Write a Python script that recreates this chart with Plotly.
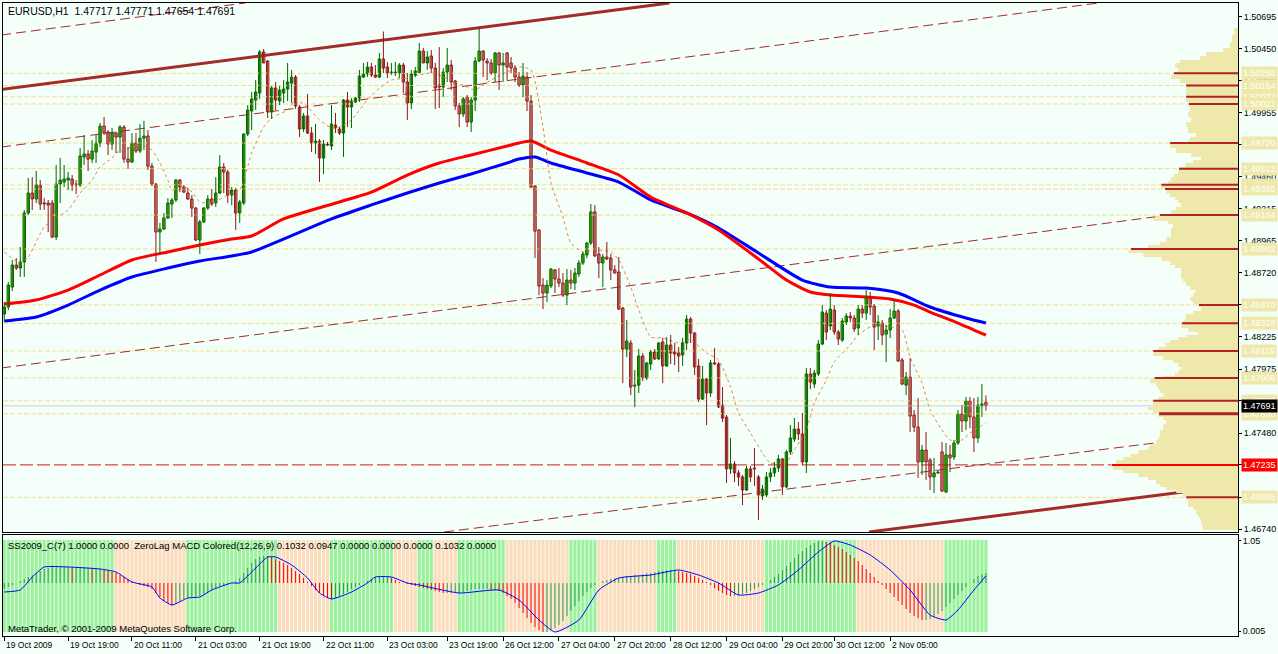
import numpy as np
import plotly.graph_objects as go

# ------------------------------------------------------------------ data
title_text = "EURUSD,H1  1.47717 1.47771 1.47654 1.47691"
indicator_text = ("SS2009_C(7) 1.0000 0.0000  ZeroLag MACD Colored(12,26,9) 0.1032 0.0947 "
                  "0.0000 0.0000 0.0000 0.1032 0.0000")
copyright_text = "MetaTrader, \u00a9 2001-2009 MetaQuotes Software Corp."

opens = [1.48400,1.48454,1.48608,1.48778,1.48755,1.48802,1.49180,1.49334,1.49288,1.49396,
1.49257,1.49257,1.49257,1.48994,1.49403,1.49419,1.49434,1.49442,1.49403,1.49396,
1.49612,1.49635,1.49596,1.49650,1.49720,1.49851,1.49805,1.49712,1.49797,1.49766,
1.49843,1.49596,1.49573,1.49720,1.49658,1.49758,1.49774,1.49542,1.49403,1.49033,
1.49056,1.49141,1.49249,1.49280,1.49434,1.49380,1.49334,1.49288,1.49218,1.48971,
1.49111,1.49218,1.49288,1.49257,1.49334,1.49535,1.49496,1.49318,1.49357,1.49180,
1.49257,1.49789,1.49967,1.50052,1.50106,1.50423,1.50353,1.49960,1.50145,1.50044,
1.50106,1.50137,1.50183,1.50229,1.49998,1.49828,1.49929,1.49797,1.49720,1.49735,
1.49604,1.49712,1.49697,1.49859,1.49828,1.49797,1.50052,1.49998,1.50037,1.50067,
1.50229,1.50253,1.50307,1.50245,1.50229,1.50369,1.50307,1.50261,1.50261,1.50261,
1.50322,1.50191,1.50029,1.50245,1.50261,1.50430,1.50338,1.50392,1.50299,1.50168,
1.50152,1.50268,1.50322,1.50199,1.50006,1.49944,1.50075,1.49882,1.50052,1.50353,
1.50430,1.50353,1.50338,1.50261,1.50415,1.50322,1.50415,1.50338,1.50299,1.50229,
1.50168,1.50229,1.50044,1.49388,1.49048,1.48623,1.48562,1.48616,1.48740,1.48670,
1.48639,1.48546,1.48662,1.48639,1.48709,1.48794,1.48856,1.48948,1.49188,1.48863,
1.48794,1.48840,1.48832,1.48740,1.48724,1.48446,1.48129,1.48176,1.47844,1.47851,
1.48076,1.47906,1.48014,1.48107,1.48053,1.48184,1.47999,1.48160,1.48107,1.48099,
1.48084,1.48176,1.48361,1.48253,1.47999,1.47743,1.47898,1.47790,1.48022,1.48014,
1.47697,1.47604,1.47204,1.47242,1.47173,1.47142,1.47041,1.47204,1.47211,1.47142,
1.46995,1.47003,1.47142,1.47173,1.47211,1.47281,1.47065,1.47335,1.47435,1.47512,
1.47474,1.47258,1.47937,1.47859,1.47937,1.48168,1.48407,1.48307,1.48431,1.48261,
1.48199,1.48338,1.48384,1.48369,1.48292,1.48438,1.48407,1.48531,1.48461,1.48307,
1.48330,1.48245,1.48276,1.48369,1.48423,1.48045,1.47851,1.47913,1.47620,1.47527,
1.47258,1.47350,1.47273,1.47142,1.47173,1.47335,1.47026,1.47312,1.47296,1.47404,
1.47628,1.47574,1.47729,1.47605,1.47443,1.47690,1.47717]

highs = [1.48493,1.48647,1.48817,1.48832,1.48917,1.49203,1.49450,1.49457,1.49504,1.49434,
1.49295,1.49280,1.49280,1.49550,1.49604,1.49550,1.49496,1.49473,1.49434,1.49681,
1.49782,1.49666,1.49743,1.49782,1.49875,1.49921,1.49820,1.49836,1.49805,1.49859,
1.49859,1.49689,1.49797,1.49797,1.49867,1.49890,1.49820,1.49566,1.49411,1.49103,
1.49180,1.49295,1.49295,1.49442,1.49442,1.49396,1.49373,1.49318,1.49226,1.49126,
1.49226,1.49318,1.49365,1.49457,1.49627,1.49566,1.49512,1.49380,1.49373,1.49280,
1.49797,1.50013,1.50114,1.50206,1.50438,1.50446,1.50361,1.50160,1.50191,1.50160,
1.50206,1.50338,1.50284,1.50245,1.50013,1.49952,1.50098,1.49843,1.49867,1.49751,
1.49743,1.49727,1.50013,1.49952,1.49843,1.50060,1.50114,1.50067,1.50075,1.50284,
1.50338,1.50346,1.50338,1.50322,1.50415,1.50581,1.50346,1.50338,1.50346,1.50338,
1.50338,1.50261,1.50284,1.50307,1.50492,1.50454,1.50430,1.50438,1.50338,1.50461,
1.50299,1.50454,1.50361,1.50206,1.50029,1.50075,1.50091,1.50075,1.50384,1.50612,
1.50438,1.50376,1.50369,1.50423,1.50423,1.50415,1.50423,1.50384,1.50322,1.50268,
1.50338,1.50268,1.50091,1.49396,1.49056,1.48677,1.48662,1.48755,1.48747,1.48755,
1.48716,1.48747,1.48740,1.48755,1.48817,1.48879,1.48956,1.49249,1.49241,1.48917,
1.48863,1.48956,1.48863,1.48778,1.48840,1.48454,1.48354,1.48199,1.47968,1.48130,
1.48099,1.48030,1.48122,1.48130,1.48184,1.48215,1.48222,1.48238,1.48176,1.48145,
1.48215,1.48392,1.48377,1.48261,1.48053,1.47999,1.47906,1.48045,1.48137,1.48030,
1.47836,1.47620,1.47443,1.47265,1.47196,1.47157,1.47227,1.47227,1.47365,1.47157,
1.47080,1.47180,1.47211,1.47258,1.47312,1.47289,1.47350,1.47543,1.47597,1.47566,
1.47635,1.47983,1.47983,1.47968,1.48199,1.48469,1.48431,1.48562,1.48469,1.48276,
1.48369,1.48407,1.48415,1.48392,1.48469,1.48469,1.48585,1.48570,1.48477,1.48392,
1.48354,1.48315,1.48438,1.48508,1.48438,1.48060,1.47952,1.48060,1.47659,1.47751,
1.47389,1.47489,1.47289,1.47289,1.47188,1.47412,1.47404,1.47389,1.47427,1.47659,
1.47697,1.47759,1.47759,1.47751,1.47759,1.47860,1.47771]

lows = [1.48339,1.48431,1.48577,1.48740,1.48686,1.48686,1.49164,1.49203,1.49257,1.49203,
1.49203,1.49033,1.48986,1.48971,1.49257,1.49380,1.49357,1.49349,1.49326,1.49380,
1.49550,1.49504,1.49566,1.49566,1.49689,1.49782,1.49627,1.49666,1.49643,1.49643,
1.49566,1.49519,1.49566,1.49643,1.49643,1.49666,1.49512,1.49388,1.48802,1.48871,
1.49048,1.49134,1.49141,1.49265,1.49341,1.49334,1.49280,1.49149,1.48963,1.48863,
1.49103,1.49203,1.49234,1.49226,1.49326,1.49334,1.49257,1.49241,1.49048,1.49103,
1.49241,1.49774,1.49820,1.49975,1.50060,1.50338,1.49913,1.49905,1.49975,1.50013,
1.50029,1.50044,1.50029,1.49983,1.49766,1.49805,1.49789,1.49650,1.49635,1.49419,
1.49481,1.49697,1.49666,1.49797,1.49782,1.49612,1.49843,1.49836,1.50029,1.50037,
1.50222,1.50229,1.50229,1.50222,1.50222,1.50261,1.50222,1.50245,1.50237,1.50222,
1.50106,1.49898,1.49983,1.50229,1.50261,1.50338,1.50284,1.50261,1.49983,1.49990,
1.50075,1.50191,1.50129,1.49975,1.49843,1.49921,1.49843,1.49805,1.49967,1.50346,
1.50229,1.50206,1.50245,1.50191,1.50129,1.50191,1.50206,1.50261,1.50191,1.50152,
1.50075,1.49967,1.49373,1.48832,1.48546,1.48438,1.48493,1.48600,1.48562,1.48608,
1.48531,1.48469,1.48593,1.48585,1.48686,1.48778,1.48832,1.48932,1.48840,1.48677,
1.48608,1.48817,1.48662,1.48716,1.48431,1.47867,1.48067,1.47774,1.47681,1.47790,
1.47882,1.47890,1.47968,1.48045,1.48045,1.47867,1.47991,1.48014,1.48006,1.47952,
1.47999,1.48122,1.48176,1.47929,1.47720,1.47736,1.47543,1.47759,1.48006,1.47674,
1.47566,1.47096,1.47165,1.47103,1.47072,1.46925,1.47033,1.47103,1.47072,1.46810,
1.46964,1.46987,1.47103,1.47142,1.47180,1.47003,1.47057,1.47312,1.47412,1.47427,
1.47234,1.47173,1.47820,1.47828,1.47921,1.48160,1.48199,1.48276,1.48238,1.48160,
1.48184,1.48315,1.48338,1.48261,1.48238,1.48369,1.48354,1.48392,1.48122,1.48199,
1.48160,1.48029,1.48215,1.48361,1.48030,1.47851,1.47774,1.47489,1.47489,1.47134,
1.47157,1.47118,1.47041,1.47018,1.47165,1.47026,1.47018,1.47180,1.47273,1.47389,
1.47489,1.47504,1.47519,1.47335,1.47404,1.47605,1.47654]

closes = [1.48454,1.48624,1.48778,1.48755,1.48802,1.49180,1.49334,1.49288,1.49396,1.49249,
1.49249,1.49241,1.48994,1.49403,1.49434,1.49442,1.49450,1.49396,1.49396,1.49620,
1.49635,1.49596,1.49658,1.49720,1.49851,1.49797,1.49712,1.49797,1.49766,1.49843,
1.49596,1.49573,1.49720,1.49658,1.49758,1.49774,1.49542,1.49403,1.49033,1.49056,
1.49141,1.49257,1.49280,1.49434,1.49380,1.49341,1.49288,1.49218,1.48971,1.49111,
1.49218,1.49288,1.49249,1.49334,1.49535,1.49496,1.49318,1.49357,1.49180,1.49265,
1.49789,1.49975,1.50060,1.50114,1.50423,1.50338,1.49960,1.50145,1.50052,1.50129,
1.50137,1.50191,1.50229,1.50006,1.49828,1.49929,1.49797,1.49720,1.49735,1.49604,
1.49712,1.49704,1.49867,1.49836,1.49797,1.50052,1.49998,1.50037,1.50067,1.50237,
1.50253,1.50307,1.50245,1.50229,1.50369,1.50299,1.50261,1.50268,1.50268,1.50322,
1.50191,1.50029,1.50253,1.50276,1.50430,1.50338,1.50384,1.50299,1.50145,1.50152,
1.50268,1.50322,1.50191,1.50006,1.49944,1.50060,1.49882,1.50052,1.50353,1.50430,
1.50361,1.50338,1.50261,1.50415,1.50322,1.50338,1.50307,1.50299,1.50229,1.50168,
1.50237,1.50044,1.49380,1.49040,1.48616,1.48562,1.48623,1.48747,1.48670,1.48639,
1.48546,1.48662,1.48639,1.48716,1.48794,1.48863,1.48948,1.49188,1.48848,1.48794,
1.48840,1.48825,1.48740,1.48716,1.48438,1.48129,1.48191,1.47836,1.47851,1.48076,
1.47906,1.48022,1.48107,1.48053,1.48176,1.47999,1.48160,1.48099,1.48091,1.48076,
1.48176,1.48361,1.48253,1.47991,1.47743,1.47898,1.47790,1.48022,1.48014,1.47682,
1.47596,1.47204,1.47242,1.47173,1.47142,1.47041,1.47204,1.47142,1.47204,1.47003,
1.47049,1.47142,1.47173,1.47211,1.47281,1.47065,1.47335,1.47443,1.47512,1.47474,
1.47258,1.47937,1.47875,1.47944,1.48168,1.48415,1.48261,1.48438,1.48261,1.48207,
1.48346,1.48384,1.48369,1.48284,1.48438,1.48407,1.48531,1.48454,1.48299,1.48338,
1.48238,1.48276,1.48369,1.48423,1.48037,1.47859,1.47913,1.47612,1.47527,1.47258,
1.47350,1.47258,1.47142,1.47173,1.47180,1.47033,1.47312,1.47289,1.47404,1.47628,
1.47574,1.47729,1.47605,1.47443,1.47697,1.47705,1.47691]

# slow moving averages (sampled where read)
ma_red_bars = [0,8,16,24,32,41,49,57,62,70,84,92,101,109,117,126,129,132,137,146,154,162,171,179,
               189,196,202,207,216,222,228,232,239,243,246]
ma_red = [1.48477,1.48508,1.48585,1.48701,1.48817,1.48879,1.48933,1.48979,1.49002,1.49134,1.49265,
          1.49341,1.49473,1.49566,1.49627,1.49697,1.49720,1.49735,1.49666,1.49566,1.49473,1.49303,
          1.49180,1.49048,1.48825,1.48662,1.48570,1.48546,1.48531,1.48516,1.48469,1.48415,1.48330,
          1.48276,1.48238]
ma_blue_bars = [0,8,16,24,32,41,49,57,62,82,92,101,109,117,126,129,133,137,146,154,162,171,179,189,
                200,207,216,224,232,241,246]
ma_blue = [1.48346,1.48377,1.48469,1.48585,1.48686,1.48755,1.48809,1.48848,1.48879,1.49134,1.49242,
           1.49334,1.49411,1.49481,1.49566,1.49596,1.49612,1.49566,1.49489,1.49419,1.49280,1.49180,
           1.49064,1.48871,1.48662,1.48608,1.48600,1.48562,1.48454,1.48369,1.48330]
# fast moving average (dotted)
ma_fast_bars = [0,4,6,10,13,16,19,22,24,27,28,32,35,37,39,41,42,46,49,52,56,59,62,65,67,71,73,76,79,82,
                84,87,89,91,94,97,101,104,107,112,116,118,120,122,126,129,132,135,137,140,142,145,148,
                152,154,157,159,162,165,169,172,176,179,182,184,187,190,192,196,198,201,203,206,208,
                212,214,217,219,222,225,227,230,232,235,237,240,242,246]
ma_fast = [1.48879,1.48794,1.48840,1.49072,1.49141,1.49203,1.49334,1.49434,1.49535,1.49604,1.49643,
           1.49689,1.49697,1.49666,1.49566,1.49434,1.49357,1.49372,1.49265,1.49257,1.49318,1.49357,
           1.49643,1.49844,1.49913,1.49975,1.50052,1.49998,1.49898,1.49836,1.49844,1.49898,1.49975,
           1.50052,1.50144,1.50206,1.50222,1.50245,1.50261,1.50206,1.50152,1.50129,1.50168,1.50206,
           1.50268,1.50307,1.50284,1.49844,1.49411,1.49149,1.48948,1.48879,1.48894,1.48879,1.48817,
           1.48608,1.48431,1.48222,1.48215,1.48176,1.48199,1.48099,1.48045,1.47836,1.47636,1.47481,
           1.47327,1.47250,1.47258,1.47350,1.47504,1.47713,1.47890,1.48030,1.48161,1.48238,1.48300,
           1.48315,1.48300,1.48276,1.48068,1.47867,1.47659,1.47504,1.47427,1.47427,1.47481,1.47559]

# trend channel lines: (bar0, price0, bar1, price1)
channel_solid = [(-0.8, 1.50133, 166.7, 1.50801), (216.7, 1.46717, 309.2, 1.47080)]
channel_dashed = [(-0.8, 1.50554, 60.4, 1.50801), (-0.8, 1.49689, 274.2, 1.50801),
                  (-0.8, 1.47983, 309.2, 1.49234), (110.2, 1.46717, 309.2, 1.47485)]

# horizontal levels
level_prices = [1.50258,1.50164,1.50077,1.50021,1.49720,1.49522,1.49397,1.49365,1.49164,1.48902,
                1.48470,1.48328,1.48115,1.47906,1.47730,1.47630,1.46985]
key_level = 1.47235
last_price = 1.47691

# volume profile
profile_prices = [1.50608,1.50553,1.50500,1.50453,1.50423,1.50392,1.50361,1.50338,1.50299,1.50269,
1.50245,1.50215,1.50183,1.50129,1.50075,1.50037,1.49998,1.49960,1.49921,1.49883,1.49844,1.49797,
1.49766,1.49743,1.49720,1.49681,1.49643,1.49612,1.49589,1.49566,1.49535,1.49512,1.49481,1.49457,
1.49426,1.49396,1.49372,1.49357,1.49326,1.49303,1.49280,1.49257,1.49226,1.49203,1.49180,1.49157,
1.49141,1.49118,1.49095,1.49064,1.49025,1.48994,1.48956,1.48933,1.48909,1.48894,1.48871,1.48840,
1.48809,1.48778,1.48755,1.48724,1.48701,1.48670,1.48647,1.48616,1.48585,1.48562,1.48531,1.48500,
1.48477,1.48454,1.48423,1.48400,1.48377,1.48346,1.48315,1.48292,1.48261,1.48238,1.48222,1.48199,
1.48176,1.48145,1.48122,1.48107,1.48076,1.48045,1.48022,1.47991,1.47968,1.47944,1.47921,1.47898,
1.47867,1.47836,1.47813,1.47790,1.47759,1.47736,1.47713,1.47682,1.47659,1.47636,1.47605,1.47582,
1.47551,1.47528,1.47504,1.47481,1.47450,1.47427,1.47396,1.47373,1.47350,1.47319,1.47296,1.47273,
1.47242,1.47219,1.47196,1.47172,1.47141,1.47118,1.47087,1.47064,1.47041,1.47018,1.46987,1.46964,
1.46941,1.46910,1.46887,1.46856,1.46833,1.46810,1.46779,1.46756,1.46732]
profile_volume = [4,6,8,15,32,38,58,63,60,62,67,58,52,52,52,50,48,50,47,52,50,42,48,50,68,62,47,37,45,53,
58,60,64,67,70,77,74,72,68,63,60,57,62,67,67,83,85,70,65,67,67,72,78,90,105,110,95,77,68,63,57,57,57,
55,52,48,43,45,48,45,40,37,45,52,53,55,57,50,40,52,60,68,73,80,85,85,75,65,60,57,60,63,75,88,82,80,78,
75,80,85,85,90,85,80,75,72,75,75,78,78,80,82,88,90,100,108,115,122,127,125,115,100,90,82,78,72,62,55,
52,50,50,45,42,40,38,37,36,35,33]

# indicator panel
ss_runs = [(1,28),(0,18),(1,23),(0,13),(1,16),(0,6),(1,4),(0,6),(1,12),(0,16),(1,7),(0,15),(1,5),
           (0,22),(1,23),(0,22),(1,11)]
macd_hist = [-6,-4,-2,0,2,4,6,8,10,12, 14,15,16,16,16,16,16,15,15,15,
15,15,14,14,14,13,12,11,10,8, 6,4,2,0,-2,-3,-4,-6,-10,-14,
-18,-20,-22,-20,-18,-16,-15,-14,-14,-13, -11,-9,-7,-5,-3,-2,-1,0,2,5,
10,15,20,24,26,27,27,26,24,22, 20,18,15,12,9,5,1,-3,-7,-10,
-13,-15,-16,-15,-13,-11,-9,-6,-4,-2, 0,2,4,6,6,6,6,5,3,1,
0,-1,-2,-3,-4,-5,-6,-7,-8,-9, -10,-10,-10,-10,-10,-9,-8,-7,-6,-6,
-6,-6,-7,-7,-8,-10,-13,-16,-20,-25, -30,-35,-40,-44,-47,-49,-49,-47,-45,-42,
-38,-33,-28,-23,-18,-13,-9,-5,-2,0, 2,3,4,5,5,6,7,7,8,8,
9,10,10,11,12,12,13,13,13,12, 11,10,9,7,5,3,1,-2,-5,-8,
-10,-12,-13,-13,-12,-11,-10,-8,-6,-4, -2,0,3,6,9,13,17,21,25,29,
32,35,38,40,42,42,41,40,38,36, 34,31,28,25,22,18,14,10,6,2,
-2,-6,-10,-14,-18,-22,-26,-30,-33,-35, -37,-37,-36,-34,-31,-28,-24,-20,-16,-12,
-8,-4,0,4,7,9,10]
macd_line_bars = [0,4,7,10,16,24,28,32,37,39,42,46,49,52,57,59,62,66,68,72,76,79,82,87,91,93,97,101,
                  104,114,124,129,134,138,144,149,154,162,169,174,179,184,189,194,199,204,208,212,
                  217,222,227,232,236,239,243,246]
macd_line = [-9,-7,6,16,16,14,11,1,-4,-15,-22,-15,-14,-7,0,0,11,26,26,18,5,-10,-16,-9,0,6,6,0,
             -2,-10,-7,-17,-37,-49,-37,-7,5,8,13,8,0,-12,-10,-2,13,31,42,38,28,13,-7,-32,-37,-27,-7,7]

x_tick_bars = [0,16,32,48,64,80,96,111,125,139,153,167,181,195,208,222]
x_tick_labels = ["19 Oct 2009","19 Oct 19:00","20 Oct 11:00","21 Oct 03:00","21 Oct 19:00",
                 "22 Oct 11:00","23 Oct 03:00","23 Oct 19:00","26 Oct 12:00","27 Oct 04:00",
                 "27 Oct 20:00","28 Oct 12:00","29 Oct 04:00","29 Oct 20:00","30 Oct 12:00",
                 "2 Nov 05:00"]
y_ticks = [1.50695,1.50450,1.50200,1.49955,1.49705,1.49460,1.49215,1.48965,1.48720,1.48470,
           1.48225,1.47975,1.47730,1.47480,1.47235,1.46985,1.46740]

# ------------------------------------------------------------------ styling
W, H = 1278, 654
ML, MR, MT, MB = 2, 38, 3, 18
PW, PH = W - ML - MR, H - MT - MB
X_RANGE = [-0.325, 309.175]
Y_RANGE = [1.46717, 1.50801]
BG = "#F5FFFA"
FONT = "Liberation Sans, Arial, sans-serif"
UP_FILL, UP_LINE = "#7FE000", "#006400"
DN_FILL, DN_LINE = "#FBE0D2", "#8E1616"
CH_COL = "#A52A2A"
LEVEL_COL = "#EEE08C"

def py(ypx):
    return (H - MB - ypx) / PH

main_dom = [py(532), 1.0]
ind_dom = [0.0, py(535)]

fig = go.Figure()
N = len(opens)
bars = list(range(N))

# level lines (behind)
for lv in level_prices:
    fig.add_trace(go.Scatter(x=X_RANGE, y=[lv, lv], mode="lines",
                             line=dict(color=LEVEL_COL, width=1, dash="5px,2px"),
                             hoverinfo="skip", showlegend=False, xaxis="x", yaxis="y"))
fig.add_trace(go.Scatter(x=X_RANGE, y=[key_level, key_level], mode="lines",
                         line=dict(color="#D01818", width=1, dash="13px,4px"),
                         hoverinfo="skip", showlegend=False, xaxis="x", yaxis="y"))
fig.add_trace(go.Scatter(x=X_RANGE, y=[last_price, last_price], mode="lines",
                         line=dict(color="#C8D0DE", width=1),
                         hoverinfo="skip", showlegend=False, xaxis="x", yaxis="y"))

# volume profile on overlay axis (grows leftwards from right edge)
fig.add_trace(go.Scatter(x=profile_volume, y=profile_prices, mode="lines", fill="tozerox",
                         fillcolor="#EEE8AA", line=dict(width=0, shape="vh", color="#EEE8AA"),
                         hoverinfo="skip", showlegend=False, xaxis="x2", yaxis="y"))
asc_p = profile_prices[::-1]
asc_v = profile_volume[::-1]
for lv in level_prices:
    v = float(np.interp(lv, asc_p, asc_v))
    wdt = 3 if abs(lv - 1.47630) < 1e-6 else 2
    fig.add_trace(go.Scatter(x=[v, 0], y=[lv, lv], mode="lines",
                             line=dict(color="#B22222", width=wdt),
                             hoverinfo="skip", showlegend=False, xaxis="x2", yaxis="y"))
vk = float(np.interp(key_level, asc_p, asc_v))
fig.add_trace(go.Scatter(x=[vk, 0], y=[key_level, key_level], mode="lines",
                         line=dict(color="#FF0000", width=2),
                         hoverinfo="skip", showlegend=False, xaxis="x2", yaxis="y"))

# channel lines
for (b0, p0, b1, p1) in channel_dashed:
    fig.add_trace(go.Scatter(x=[b0, b1], y=[p0, p1], mode="lines",
                             line=dict(color=CH_COL, width=1, dash="10px,5px"),
                             hoverinfo="skip", showlegend=False, xaxis="x", yaxis="y"))
for (b0, p0, b1, p1) in channel_solid:
    fig.add_trace(go.Scatter(x=[b0, b1], y=[p0, p1], mode="lines",
                             line=dict(color=CH_COL, width=3),
                             hoverinfo="skip", showlegend=False, xaxis="x", yaxis="y"))

# moving averages
fig.add_trace(go.Scatter(x=ma_blue_bars, y=ma_blue, mode="lines",
                         line=dict(color="#0000FF", width=3, shape="spline", smoothing=0.6),
                         hoverinfo="skip", showlegend=False, xaxis="x", yaxis="y"))
fig.add_trace(go.Scatter(x=ma_red_bars, y=ma_red, mode="lines",
                         line=dict(color="#FF0000", width=3, shape="spline", smoothing=0.6),
                         hoverinfo="skip", showlegend=False, xaxis="x", yaxis="y"))
fig.add_trace(go.Scatter(x=ma_fast_bars, y=ma_fast, mode="lines",
                         line=dict(color="#E0883C", width=1, dash="dot", shape="spline", smoothing=0.6),
                         hoverinfo="skip", showlegend=False, xaxis="x", yaxis="y"))

# candles: wicks then bodies
for up in (True, False):
    wx, wy, bx, bb, bh = [], [], [], [], []
    for i in bars:
        o, h, l, c = opens[i], highs[i], lows[i], closes[i]
        if (c >= o) != up:
            continue
        wx += [i, i, None]
        wy += [min(l, o, c), max(h, o, c), None]
        bx.append(i)
        bb.append(min(o, c))
        bh.append(max(abs(c - o), 0.00003))
    col_line = UP_LINE if up else DN_LINE
    col_fill = UP_FILL if up else DN_FILL
    fig.add_trace(go.Scatter(x=wx, y=wy, mode="lines", line=dict(color=col_line, width=1),
                             hoverinfo="skip", showlegend=False, xaxis="x", yaxis="y"))
    fig.add_trace(go.Bar(x=bx, y=bh, base=bb, width=0.6,
                         marker=dict(color=col_fill, line=dict(color=col_line, width=1)),
                         hoverinfo="skip", showlegend=False, xaxis="x", yaxis="y"))

# indicator: SS2009 background stripes
ss_state = []
for state, cnt in ss_runs:
    ss_state += [state] * cnt
fig.add_trace(go.Bar(x=bars, y=[1.0] * N, width=0.8,
                     marker=dict(color=["#9CF29C" if s else "#FDDCBD" for s in ss_state],
                                 line=dict(width=0)),
                     hoverinfo="skip", showlegend=False, xaxis="x3", yaxis="y3"))
# MACD histogram
hcol = []
for i, v in enumerate(macd_hist):
    prev = macd_hist[i - 1] if i > 0 else v
    hcol.append("#2E9E50" if v >= prev else "#FF0000")
fig.add_trace(go.Bar(x=bars, y=macd_hist, width=0.25,
                     marker=dict(color=hcol, line=dict(width=0)),
                     hoverinfo="skip", showlegend=False, xaxis="x3", yaxis="y4"))
fig.add_trace(go.Scatter(x=macd_line_bars, y=macd_line, mode="lines",
                         line=dict(color="#0000FF", width=1, shape="spline", smoothing=0.5),
                         hoverinfo="skip", showlegend=False, xaxis="x3", yaxis="y4"))

# ------------------------------------------------------------------ annotations
ann = []
ann.append(dict(text=title_text, xref="paper", yref="paper", x=(5 - ML) / PW, y=py(3),
                xanchor="left", yanchor="top", showarrow=False,
                font=dict(family=FONT, size=10.5, color="black")))
ann.append(dict(text=indicator_text, xref="paper", yref="paper", x=(5 - ML) / PW, y=py(545),
                xanchor="left", yanchor="middle", showarrow=False,
                font=dict(family=FONT, size=9.5, color="black")))
ann.append(dict(text=copyright_text, xref="paper", yref="paper", x=(5 - ML) / PW, y=py(628),
                xanchor="left", yanchor="middle", showarrow=False,
                font=dict(family=FONT, size=9.5, color="black")))
for b, lab in zip(x_tick_bars, x_tick_labels):
    ann.append(dict(text=lab, xref="x3", yref="paper", x=b, y=0, yshift=-2,
                    xanchor="left", yanchor="top", showarrow=False,
                    font=dict(family=FONT, size=8.5, color="black")))
xr = 1.0 + 3 / PW
for lv in level_prices:
    ann.append(dict(text=f"{lv:.5f}", xref="paper", yref="y", x=xr, y=lv,
                    xanchor="left", yanchor="middle", showarrow=False, bgcolor="#EEE8AA",
                    borderpad=1, font=dict(family=FONT, size=9, color="white")))
ann.append(dict(text=f"{key_level:.5f}", xref="paper", yref="y", x=xr, y=key_level,
                xanchor="left", yanchor="middle", showarrow=False, bgcolor="#FF0000",
                borderpad=1, font=dict(family=FONT, size=9, color="white")))
ann.append(dict(text=f"{last_price:.5f}", xref="paper", yref="y", x=xr, y=last_price,
                xanchor="left", yanchor="middle", showarrow=False, bgcolor="#000000",
                borderpad=1, font=dict(family=FONT, size=9, color="white")))

axis_common = dict(showgrid=False, zeroline=False, showline=True, linecolor="black",
                   linewidth=1, mirror=True)

fig.update_layout(
    width=W, height=H, margin=dict(l=ML, r=MR, t=MT, b=MB),
    paper_bgcolor=BG, plot_bgcolor=BG, barmode="overlay", showlegend=False,
    font=dict(family=FONT, size=9, color="black"),
    annotations=ann,
    xaxis=dict(domain=[0, 1], range=X_RANGE, anchor="y", showticklabels=False, ticks="",
               rangeslider=dict(visible=False), **axis_common),
    xaxis2=dict(overlaying="x", range=[PW, 0], anchor="y", visible=False, showgrid=False,
                zeroline=False),
    yaxis=dict(domain=main_dom, range=Y_RANGE, anchor="x", side="right", tickvals=y_ticks,
               ticktext=[f"{t:.5f}" for t in y_ticks], ticks="outside", ticklen=3,
               tickcolor="black", tickfont=dict(family=FONT, size=9, color="black"),
               **axis_common),
    xaxis3=dict(domain=[0, 1], range=X_RANGE, anchor="y3", tickvals=x_tick_bars,
                showticklabels=False, ticks="outside", ticklen=4, tickcolor="black",
                **axis_common),
    yaxis3=dict(domain=ind_dom, range=[-0.043, 1.054], anchor="x3", side="right",
                tickvals=[0.989, 0.011], ticktext=["1.05", "0.005"], ticks="outside", ticklen=2,
                tickcolor="black", tickfont=dict(family=FONT, size=9, color="black"),
                **axis_common),
    yaxis4=dict(overlaying="y3", range=[-53, 48], anchor="x3", visible=False,
                showgrid=False, zeroline=False),
)

fig.write_html("out.html", config={"displayModeBar": False, "staticPlot": True},
               post_script="document.body.style.margin='0';document.body.style.background='%s';" % BG)
